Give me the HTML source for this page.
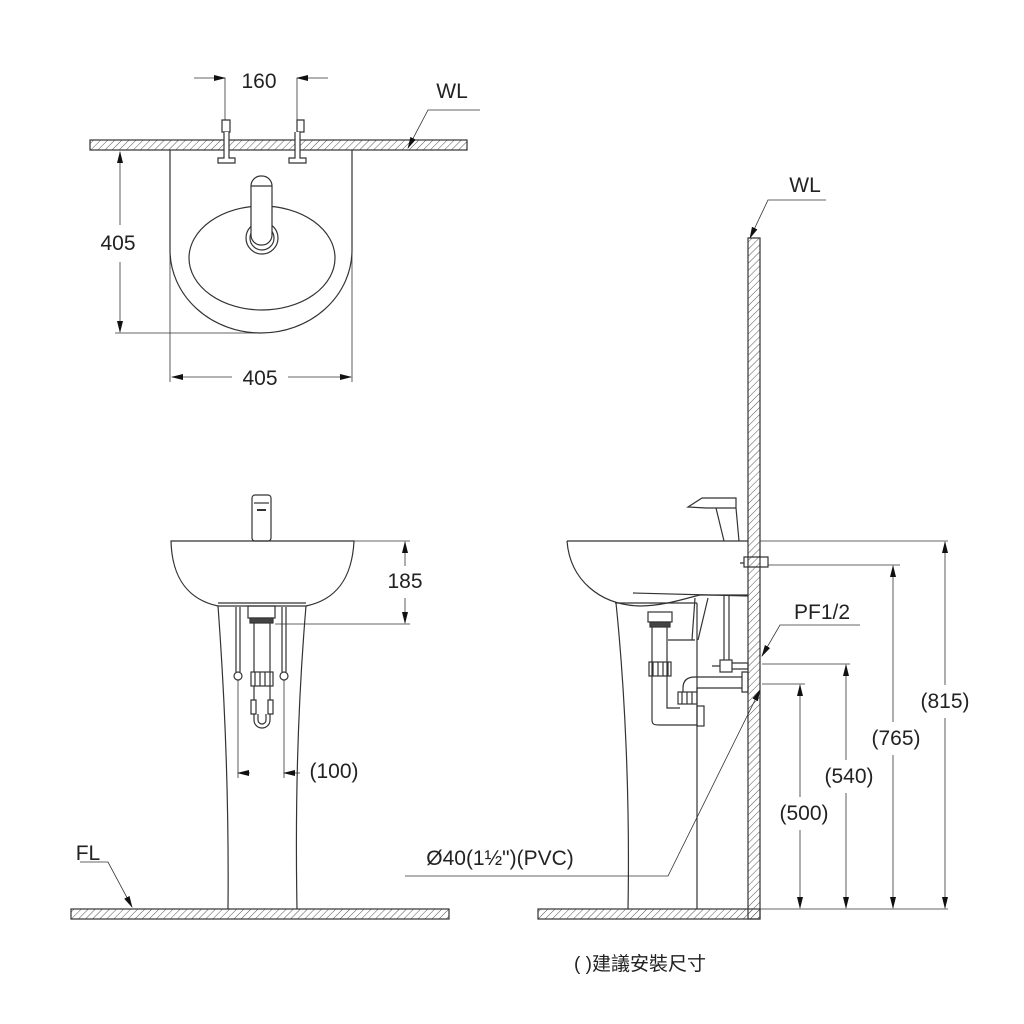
<!DOCTYPE html>
<html><head><meta charset="utf-8"><style>
html,body{margin:0;padding:0;background:#fff}
svg{display:block}
text{font-family:"Liberation Sans","Noto Sans CJK TC",sans-serif;fill:#222}
</style></head><body>
<svg width="1024" height="1024" viewBox="0 0 1024 1024" xmlns="http://www.w3.org/2000/svg">
<defs>
<pattern id="h" width="5" height="5" patternUnits="userSpaceOnUse" patternTransform="rotate(45)">
<line x1="0" y1="0" x2="0" y2="5" stroke="#555" stroke-width="1"/>
</pattern>
<marker id="a" markerWidth="12" markerHeight="8" refX="11" refY="4" orient="auto" markerUnits="userSpaceOnUse">
<path d="M0,1 L12,4 L0,7 z" fill="#111"/></marker>
</defs>
<g fill="none" stroke="#333" stroke-width="1.2">
<rect x="90" y="140" width="377" height="10" fill="url(#h)"/>
<path d="M170,150 V250 A91,83 0 0 0 352,250 V150"/>
<ellipse cx="262" cy="258" rx="73" ry="52"/>
<circle cx="262" cy="238" r="16"/>
<circle cx="262" cy="238" r="12"/>
<rect x="251" y="176" width="21" height="69" rx="10" fill="#fff"/>
<line x1="251" y1="186" x2="272" y2="186"/>
<path d="M222,120 h8 v12 h-8 z M297,120 h7 v12 h-7 z"/>
<path d="M224,132 v26 h-6 v5 h17 v-5 h-6 v-26 M295,132 v26 h-6 v5 h17 v-5 h-6 v-26" fill="#fff"/>
<line x1="225" y1="78" x2="225" y2="120" stroke-width="0.8"/>
<line x1="297" y1="78" x2="297" y2="120" stroke-width="0.8"/>
<line x1="194" y1="78" x2="225" y2="78" marker-end="url(#a)" stroke-width="0.8"/>
<line x1="328" y1="78" x2="297" y2="78" marker-end="url(#a)" stroke-width="0.8"/>
<polyline points="480,110 428,110 408,148" marker-end="url(#a)" stroke-width="0.8"/>
<line x1="115" y1="333" x2="262" y2="333" stroke-width="0.8"/>
<line x1="120" y1="225" x2="120" y2="152" marker-end="url(#a)" stroke-width="0.8"/>
<line x1="120" y1="262" x2="120" y2="332" marker-end="url(#a)" stroke-width="0.8"/>
<line x1="352" y1="250" x2="352" y2="382" stroke-width="0.8"/>
<line x1="170" y1="250" x2="170" y2="382" stroke-width="0.8"/>
<line x1="232" y1="377" x2="172" y2="377" marker-end="url(#a)" stroke-width="0.8"/>
<line x1="288" y1="377" x2="351" y2="377" marker-end="url(#a)" stroke-width="0.8"/>

<rect x="71" y="909" width="378" height="10" fill="url(#h)"/>
<path d="M171,541 H354 C352,580 335,600 306,606 H218 C190,600 172,580 171,541 z"/>
<path d="M218,603 H306"/>
<path d="M218,606 C225,700 229,800 228,909 M306,606 C298,700 295,800 297,909"/>
<rect x="252" y="495" width="19" height="46" rx="3"/>
<line x1="254" y1="503" x2="269" y2="503"/>
<line x1="257" y1="510" x2="266" y2="510" stroke-width="2"/>
<rect x="248" y="606" width="27" height="12"/>
<rect x="250" y="618" width="23" height="5" fill="#444"/>
<path d="M254,623 V672 M270,623 V672"/>
<rect x="251" y="672" width="22" height="14"/>
<path d="M255,672 v14 M260,672 v14 M265,672 v14 M270,672 v14"/>
<path d="M254,686 V700 M270,686 V700"/>
<path d="M251,700 h5 v14 h-5 z M268,700 h5 v14 h-5 z"/>
<path d="M254,714 V720 A8,8 0 0 0 270,720 V714 M258,714 V720 A4,4 0 0 0 266,720 V714"/>
<path d="M236,607 V672 M240,607 V672 M282,607 V672 M286,607 V672"/>
<circle cx="238" cy="676" r="4"/><circle cx="284" cy="676" r="4"/>
<line x1="238" y1="680" x2="238" y2="778" stroke-width="0.8"/>
<line x1="284" y1="680" x2="284" y2="778" stroke-width="0.8"/>
<line x1="250" y1="773" x2="238" y2="773" marker-end="url(#a)" stroke-width="0.8"/>
<line x1="300" y1="773" x2="284" y2="773" marker-end="url(#a)" stroke-width="0.8"/>
<line x1="354" y1="541" x2="410" y2="541" stroke-width="0.8"/>
<line x1="275" y1="624" x2="410" y2="624" stroke-width="0.8"/>
<line x1="405" y1="566" x2="405" y2="542" marker-end="url(#a)" stroke-width="0.8"/>
<line x1="405" y1="598" x2="405" y2="623" marker-end="url(#a)" stroke-width="0.8"/>
<polyline points="80,862 108,862 132,907" marker-end="url(#a)" stroke-width="0.8"/>

<rect x="538" y="909" width="222" height="10" fill="url(#h)"/>
<rect x="748" y="238" width="12" height="681" fill="url(#h)"/>
<polyline points="826,200 768,200 750,238" marker-end="url(#a)" stroke-width="0.8"/>
<path d="M567,541 H748 M567,541 C570,580 600,605 640,606 C665,606 690,597 700,595 H748"/>
<path d="M633,593 L748,596"/>
<path d="M615,603 H697"/>
<path d="M616,603 C625,690 630,800 628,909"/>
<path d="M697,603 V909"/>
<path d="M688,507 l14,-9 h34 v10 h-30 l-18,-1 z M716,508 l8,33 M736,508 l3,33"/>
<path d="M740,563 h4 v-6 h24 v10 h-24 v-4"/>
<rect x="648" y="612" width="24" height="10"/>
<rect x="650" y="622" width="20" height="5" fill="#444"/>
<path d="M652,627 V720 C652,725 655,725 660,725 H697 M667,627 V708 H680"/>
<rect x="649" y="662" width="22" height="14"/>
<path d="M653,662v14M658,662v14M663,662v14M668,662v14"/>
<line x1="668" y1="640" x2="695" y2="640"/>
<path d="M695,598 L692,640 M708,598 L698,640"/>
<rect x="678" y="692" width="19" height="12"/>
<path d="M682,692v12M687,692v12M692,692v12"/>
<path d="M683,692 V688 C683,680 688,677 695,677 H742 M697,692 V688 H742"/>
<rect x="697" y="706" width="7" height="20"/>
<path d="M742,672 h6 v20 h-6 z"/>
<path d="M724,596 V660 M729,596 V660"/>
<rect x="720" y="660" width="12" height="12"/>
<path d="M732,663 h16 v6 h-16 M720,666 h-8"/>
<line x1="760" y1="541" x2="948" y2="541" stroke-width="0.8"/>
<line x1="768" y1="565" x2="900" y2="565" stroke-width="0.8"/>
<line x1="762" y1="664" x2="850" y2="664" stroke-width="0.8"/>
<line x1="762" y1="684" x2="805" y2="684" stroke-width="0.8"/>
<line x1="760" y1="909" x2="948" y2="909" stroke-width="0.8"/>
<line x1="945" y1="685" x2="945" y2="542" marker-end="url(#a)" stroke-width="0.8"/>
<line x1="945" y1="718" x2="945" y2="908" marker-end="url(#a)" stroke-width="0.8"/>
<line x1="893" y1="722" x2="893" y2="566" marker-end="url(#a)" stroke-width="0.8"/>
<line x1="893" y1="755" x2="893" y2="908" marker-end="url(#a)" stroke-width="0.8"/>
<line x1="846" y1="760" x2="846" y2="665" marker-end="url(#a)" stroke-width="0.8"/>
<line x1="846" y1="793" x2="846" y2="908" marker-end="url(#a)" stroke-width="0.8"/>
<line x1="800" y1="797" x2="800" y2="685" marker-end="url(#a)" stroke-width="0.8"/>
<line x1="800" y1="830" x2="800" y2="908" marker-end="url(#a)" stroke-width="0.8"/>
<polyline points="860,625 780,625 762,656" marker-end="url(#a)" stroke-width="0.8"/>
<polyline points="405,876 668,876 760,690" marker-end="url(#a)" stroke-width="0.8"/>
</g>
<g font-size="21" text-anchor="middle">
<text x="259" y="88">160</text>
<text x="452" y="98">WL</text>
<text x="118" y="250">405</text>
<text x="260" y="385">405</text>
<text x="405" y="588">185</text>
<text x="334" y="778">(100)</text>
<text x="88" y="860">FL</text>
<text x="805" y="192">WL</text>
<text x="822" y="619">PF1/2</text>
<text x="945" y="708">(815)</text>
<text x="896" y="745">(765)</text>
<text x="849" y="783">(540)</text>
<text x="804" y="820">(500)</text>
<text x="500" y="865">Ø40(1½")(PVC)</text>
<text x="640" y="970" font-size="19">( )建議安裝尺寸</text>
</g>
</svg>
</body></html>
